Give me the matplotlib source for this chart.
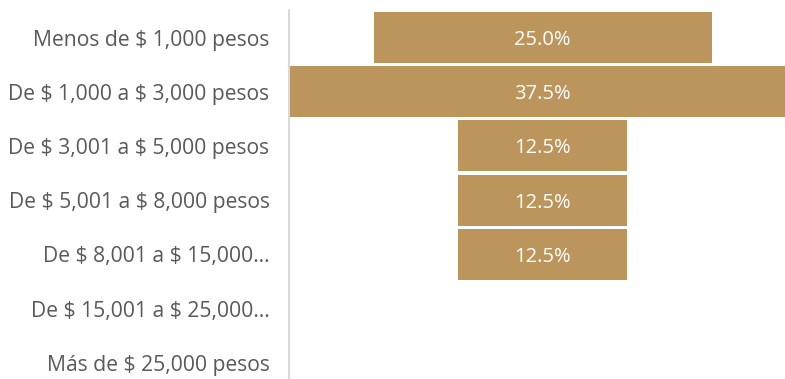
import matplotlib.pyplot as plt

categories = [
    "Menos de $ 1,000 pesos",
    "De $ 1,000 a $ 3,000 pesos",
    "De $ 3,001 a $ 5,000 pesos",
    "De $ 5,001 a $ 8,000 pesos",
    "De $ 8,001 a $ 15,000…",
    "De $ 15,001 a $ 25,000…",
    "Más de $ 25,000 pesos",
]
shares = [25.0, 37.5, 12.5, 12.5, 12.5, 0.0, 0.0]

bar_color = "#BC955C"
text_color = "#595959"

plt.rcParams["font.family"] = ["Open Sans", "DejaVu Sans"]

fig = plt.figure(figsize=(7.85, 3.79), dpi=100)
# the widest bar runs a little past the right edge of the figure
ax = fig.add_axes([289 / 785, 1 - 390 / 379, 507 / 785, 379.6 / 379])

ypos = list(range(len(categories)))
# funnel: bars centred on zero
lefts = [-v / 2 for v in shares]
ax.barh(ypos, shares, left=lefts, height=0.94, color=bar_color)

for y, v in zip(ypos, shares):
    if v > 0:
        ax.text(0, y, f"{v:.1f}%", ha="center", va="center_baseline",
                color="white", fontsize=14.5)

ax.set_xlim(-max(shares) / 2, max(shares) / 2)
ax.set_ylim(len(categories) - 0.5, -0.5)
ax.set_yticks(ypos)
ax.set_yticklabels([c.replace("$", r"\$") for c in categories],
                   fontsize=15.2, color=text_color)
ax.tick_params(axis="y", length=0, pad=14)
ax.set_xticks([])

for side in ["top", "right", "bottom"]:
    ax.spines[side].set_visible(False)
ax.spines["left"].set_color("#D9D9D9")
ax.spines["left"].set_linewidth(1.5)

fig.savefig("out.png", dpi=100)
